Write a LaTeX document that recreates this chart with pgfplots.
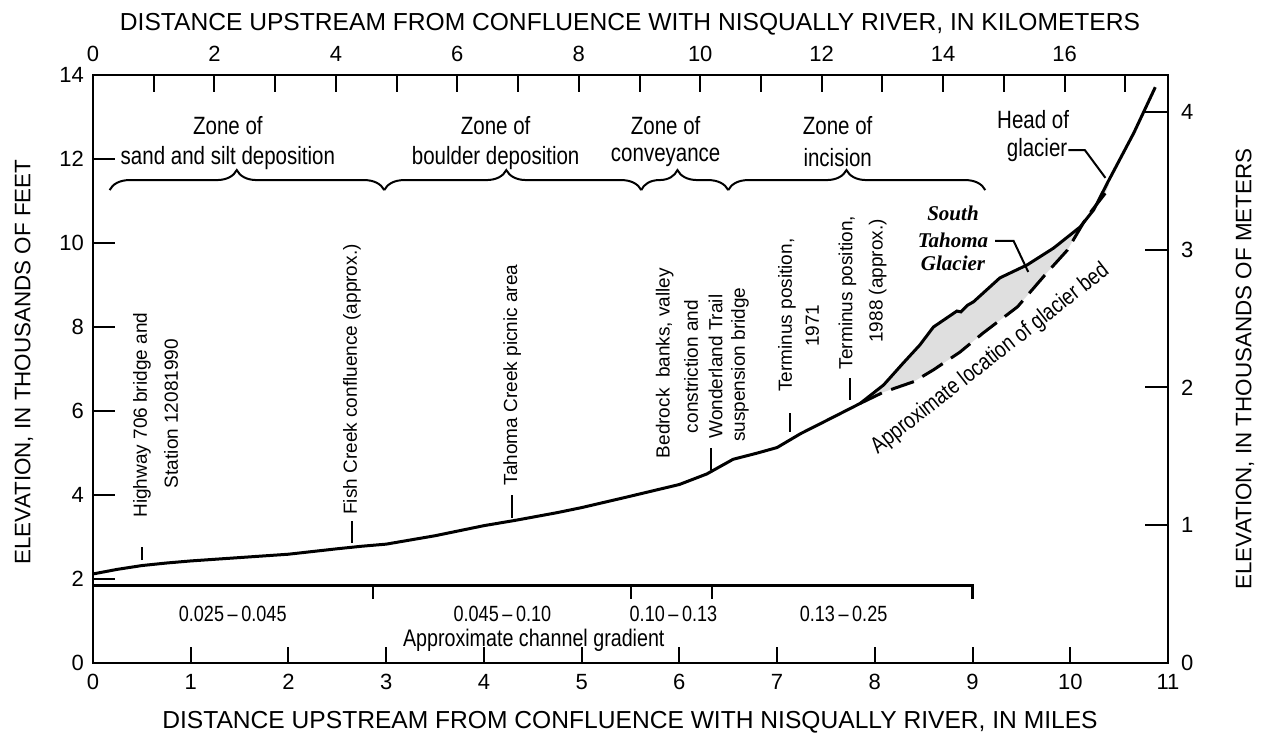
\documentclass[border=0pt]{standalone}
\usepackage{fontspec}
\setmainfont{Liberation Sans}
\newfontfamily\condfont{Liberation Sans}[FakeStretch=0.82]
\newfontfamily\seriffont{Liberation Serif}
\usepackage{pgfplots}
\pgfplotsset{compat=1.18}
\usetikzlibrary{decorations.pathreplacing}
\newcommand\annfont{\fontsize{9.5}{11}\selectfont}
\newcommand\zonefont{\condfont\fontsize{12.5}{14}\selectfont}
\newcommand\ticklabfont{\fontsize{11}{11}\selectfont}
\pgfplotsset{base/.style={at={(46.5pt,38.5pt)}, anchor=south west,
  width=537.5pt, height=294pt, scale only axis,
  axis line style={line width=1.4pt},
  tick style={line width=1pt, black}, tick align=inside,
  /pgf/number format/assume math mode=true,
  ticklabel style={font=\ticklabfont}}}
\begin{document}
\begin{tikzpicture}
\useasboundingbox (0,0) rectangle (633pt,370pt);
% left ticks (feet)
\begin{axis}[base, xmin=0, xmax=11, ymin=0, ymax=14, xtick=\empty,
  ytick={0,2,...,14}, ytick pos=left, major tick length=11pt,
  yticklabel style={xshift=-1pt}]
\end{axis}
% top ticks (km)
\begin{axis}[base, xmin=0, xmax=17.702784, ymin=0, ymax=14, ytick=\empty,
  xtick={0,2,...,16}, minor xtick={1,3,...,17}, xtick pos=right, xticklabel pos=right,
  major tick length=8.5pt, minor tick length=8.5pt,
  xticklabel style={yshift=3pt}]
\end{axis}
% right ticks (meters)
\begin{axis}[base, xmin=0, xmax=11, ymin=0, ymax=4.2672, xtick=\empty,
  ytick={0,1,...,4}, ytick pos=right, yticklabel pos=right, major tick length=11.5pt,
  yticklabel style={xshift=3pt}]
\end{axis}
% main axis (miles, feet)
\begin{axis}[base, xmin=0, xmax=11, ymin=0, ymax=14, ytick=\empty,
  xtick={0,1,...,11}, xtick pos=left, major tick length=8pt, clip=false,
  xticklabel style={yshift=-2pt}]
% glacier fill
\addplot[fill=gray!25, draw=none] coordinates {
 (7.85,6.18) (8.09,6.62) (8.29,7.14) (8.46,7.57) (8.60,8.00) (8.84,8.38) (8.88,8.36)
 (8.95,8.52) (9.01,8.60) (9.28,9.17) (9.56,9.48) (9.83,9.88) (10.10,10.38) (10.24,10.79)
 (10.38,11.43) (10.40,11.40) (10.36,11.19) (10.17,10.62) (9.97,9.83) (9.76,9.29)
 (9.46,8.48) (9.11,7.86) (8.87,7.40) (8.60,6.98) (8.40,6.70) (8.09,6.45) (7.85,6.18)};
% channel / glacier surface profile
\addplot[line width=1.5pt] coordinates {
 (0.00,2.12) (0.25,2.23) (0.50,2.32) (0.75,2.38) (1.00,2.43) (1.50,2.51) (2.00,2.59)
 (2.50,2.72) (2.75,2.78) (3.00,2.83) (3.50,3.03) (4.00,3.27) (4.33,3.40) (4.75,3.58)
 (5.00,3.70) (5.46,3.95) (6.00,4.25) (6.28,4.50) (6.55,4.85) (6.80,5.00) (7.00,5.13)
 (7.24,5.46) (7.58,5.86) (7.85,6.18) (8.09,6.62) (8.29,7.14) (8.46,7.57) (8.60,8.00)
 (8.84,8.38) (8.88,8.36) (8.95,8.52) (9.01,8.60) (9.28,9.17) (9.56,9.48) (9.83,9.88)
 (10.10,10.38) (10.24,10.79) (10.38,11.43) (10.65,12.62) (10.87,13.71)};
% glacier bed (dashed)
\addplot[line width=1.5pt, dash pattern=on 12pt off 5pt] coordinates {
 (7.85,6.18) (8.09,6.45) (8.40,6.70) (8.60,6.98) (8.87,7.40) (9.11,7.86) (9.46,8.48)
 (9.76,9.29) (9.97,9.83) (10.17,10.62) (10.36,11.19) (10.40,11.40)};
% zone braces
\draw[line width=1pt, decorate, decoration={brace, amplitude=10pt, aspect=0.463}] (axis cs:0.17,11.26) -- (axis cs:2.98,11.26);
\draw[line width=1pt, decorate, decoration={brace, amplitude=10pt, aspect=0.475}] (axis cs:2.98,11.26) -- (axis cs:5.61,11.26);
\draw[line width=1pt, decorate, decoration={brace, amplitude=10pt, aspect=0.416}] (axis cs:5.61,11.26) -- (axis cs:6.50,11.26);
\draw[line width=1pt, decorate, decoration={brace, amplitude=10pt, aspect=0.46}] (axis cs:6.50,11.26) -- (axis cs:9.13,11.26);
\node[font=\zonefont] at (axis cs:1.38,12.8) {Zone of};
\node[font=\zonefont] at (axis cs:1.38,12.03) {sand and silt deposition};
\node[font=\zonefont] at (axis cs:4.12,12.8) {Zone of};
\node[font=\zonefont] at (axis cs:4.12,12.03) {boulder deposition};
\node[font=\zonefont] at (axis cs:5.86,12.8) {Zone of};
\node[font=\zonefont] at (axis cs:5.86,12.03) {conveyance};
\node[font=\zonefont] at (axis cs:7.62,12.8) {Zone of};
\node[font=\zonefont] at (axis cs:7.62,12.03) {incision};
% head of glacier
\node[font=\zonefont] at (axis cs:9.62,12.93) {Head of};
\node[font=\zonefont] at (axis cs:9.66,12.21) {glacier};
\draw[line width=1pt] (axis cs:9.98,12.21) -- (axis cs:10.15,12.21) -- (axis cs:10.36,11.55);
% South Tahoma Glacier
\node[font=\seriffont\bfseries\itshape\fontsize{10.5}{12}\selectfont] at (axis cs:8.80,10.71) {South};
\node[font=\seriffont\bfseries\itshape\fontsize{10.5}{12}\selectfont] at (axis cs:8.80,10.07) {Tahoma};
\node[font=\seriffont\bfseries\itshape\fontsize{10.5}{12}\selectfont] at (axis cs:8.80,9.52) {Glacier};
\draw[line width=1pt] (axis cs:9.23,10.05) -- (axis cs:9.42,10.05) -- (axis cs:9.57,9.31);
% bed label
\node[font=\condfont\fontsize{11.5}{14}\selectfont, rotate=38, anchor=base, inner sep=0pt] at (axis cs:9.22,7.12) {Approximate location of glacier bed};
% vertical annotations
\begin{scope}[line width=1pt]
\draw (axis cs:0.50,2.45) -- (axis cs:0.50,2.76);
\node[font=\annfont, rotate=90] at (axis cs:0.50,5.90) {Highway 706 bridge and};
\node[font=\annfont, rotate=90] at (axis cs:0.80,5.94) {Station 12081990};
\draw (axis cs:2.65,2.86) -- (axis cs:2.65,3.38);
\node[font=\annfont, rotate=90] at (axis cs:2.65,6.75) {Fish Creek confluence (approx.)};
\draw (axis cs:4.29,3.45) -- (axis cs:4.29,4.00);
\node[font=\annfont, rotate=90] at (axis cs:4.29,6.86) {Tahoma Creek picnic area};
\node[font=\annfont, rotate=90] at (axis cs:5.85,7.14) {Bedrock\ \ banks, valley};
\node[font=\annfont, rotate=90] at (axis cs:6.12,7.06) {constriction and};
\draw (axis cs:6.32,4.60) -- (axis cs:6.32,5.12);
\node[font=\annfont, rotate=90] at (axis cs:6.37,7.06) {Wonderland Trail};
\node[font=\annfont, rotate=90] at (axis cs:6.62,7.10) {suspension bridge};
\draw (axis cs:7.13,5.50) -- (axis cs:7.13,5.95);
\node[font=\annfont, rotate=90] at (axis cs:7.10,8.28) {Terminus position,};
\node[font=\annfont, rotate=90] at (axis cs:7.36,8.03) {1971};
\draw (axis cs:7.75,6.26) -- (axis cs:7.75,6.79);
\node[font=\annfont, rotate=90] at (axis cs:7.72,8.82) {Terminus position,};
\node[font=\annfont, rotate=90] at (axis cs:8.03,9.10) {1988 (approx.)};
\end{scope}
% gradient bracket
\draw[line width=1.3pt] (axis cs:0,1.84) -- (axis cs:9.0,1.84) -- (axis cs:9.0,1.52);
\draw[line width=1pt] (axis cs:2.86,1.84) -- (axis cs:2.86,1.52);
\draw[line width=1pt] (axis cs:5.50,1.84) -- (axis cs:5.50,1.52);
\draw[line width=1pt] (axis cs:6.33,1.84) -- (axis cs:6.33,1.52);
\node[font=\condfont\fontsize{11}{12}\selectfont] at (axis cs:1.43,1.16) {0.025\,–\,0.045};
\node[font=\condfont\fontsize{11}{12}\selectfont] at (axis cs:4.19,1.16) {0.045\,–\,0.10};
\node[font=\condfont\fontsize{11}{12}\selectfont] at (axis cs:5.94,1.16) {0.10\,–\,0.13};
\node[font=\condfont\fontsize{11}{12}\selectfont] at (axis cs:7.68,1.16) {0.13\,–\,0.25};
\node[font=\condfont\fontsize{12}{13}\selectfont] at (axis cs:4.51,0.55) {Approximate channel gradient};
\end{axis}
% axis titles
\node[font=\fontsize{12.3}{14}\selectfont] at (315pt,358pt) {DISTANCE UPSTREAM FROM CONFLUENCE WITH NISQUALLY RIVER, IN KILOMETERS};
\node[font=\fontsize{12.3}{14}\selectfont] at (315pt,9pt) {DISTANCE UPSTREAM FROM CONFLUENCE WITH NISQUALLY RIVER, IN MILES};
\node[font=\fontsize{11.2}{13}\selectfont, rotate=90] at (12pt,189pt) {ELEVATION, IN THOUSANDS OF FEET};
\node[font=\fontsize{11.2}{13}\selectfont, rotate=90] at (622.5pt,185.5pt) {ELEVATION, IN THOUSANDS OF METERS};
\end{tikzpicture}
\end{document}
